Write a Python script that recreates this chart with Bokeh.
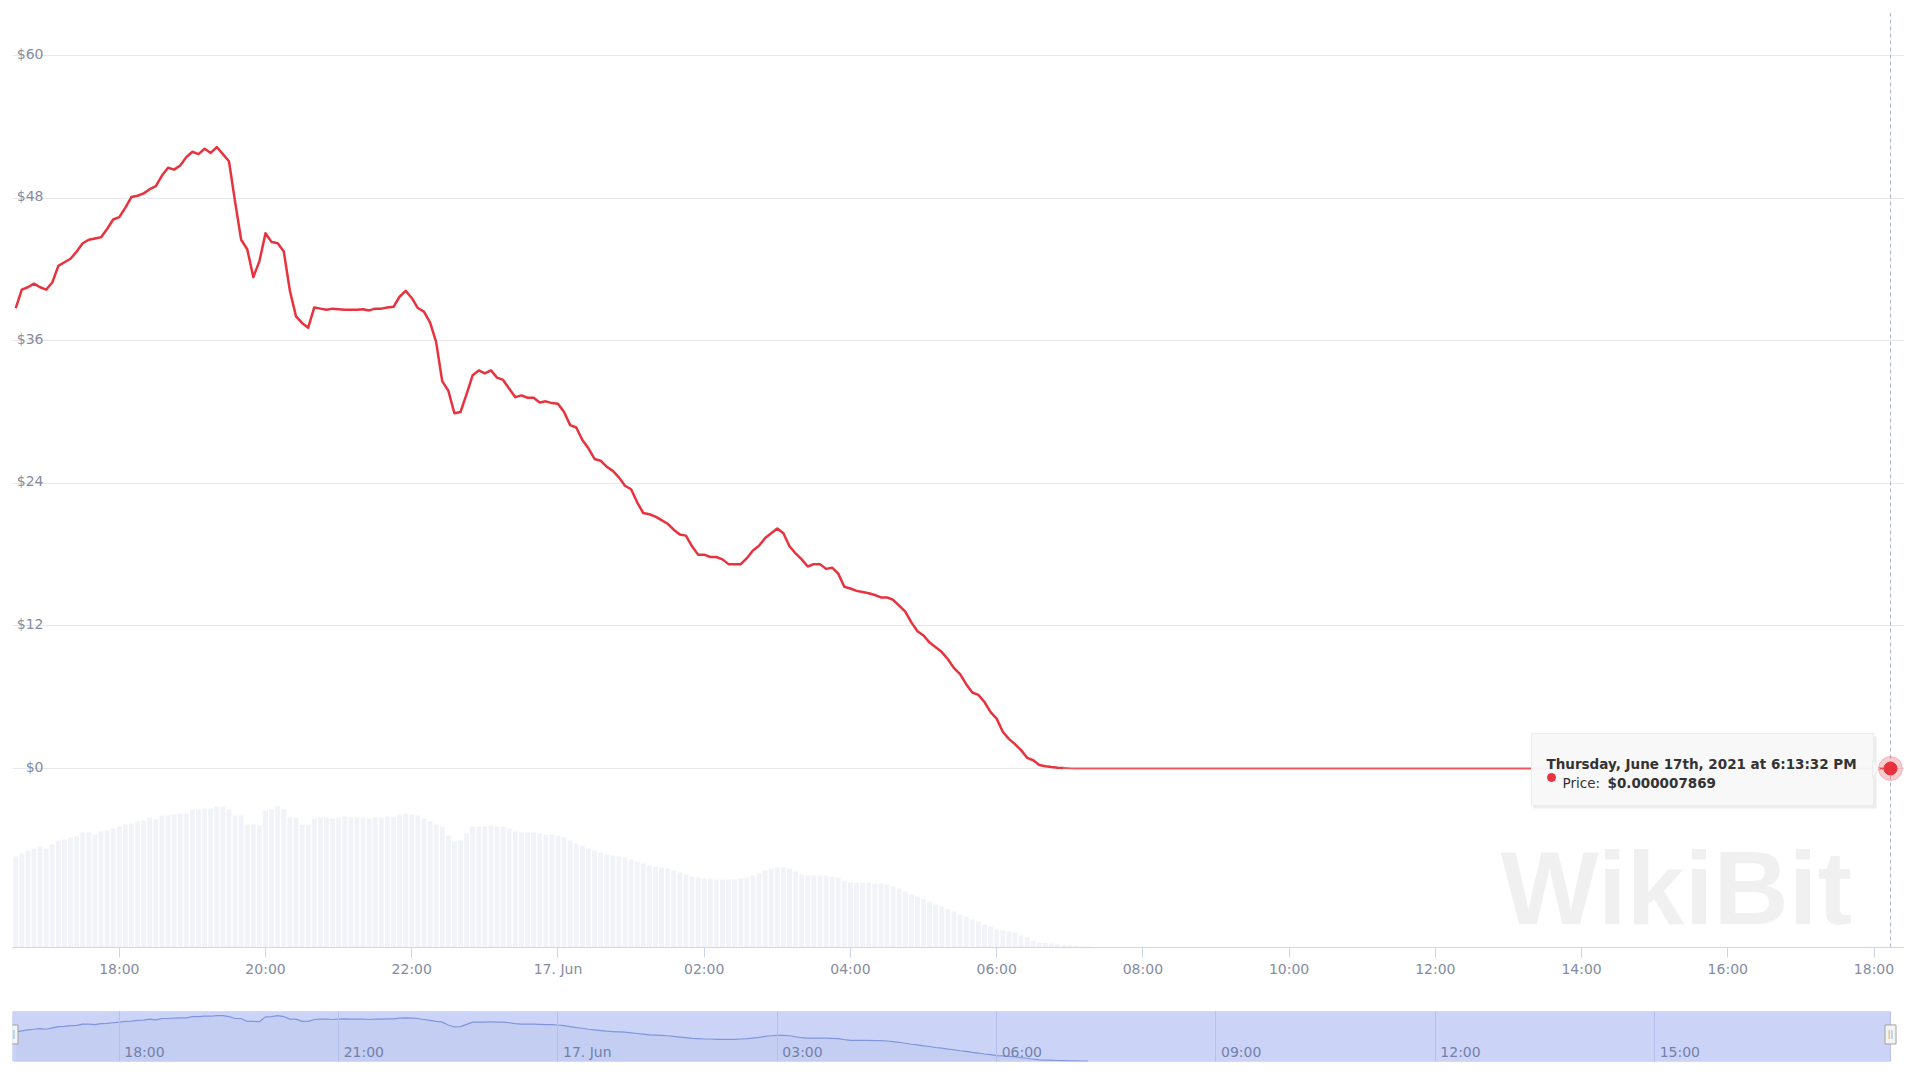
from datetime import datetime, timedelta
from bokeh.plotting import figure
from bokeh.models import (Range1d, DatetimeAxis, FixedTicker, Grid, Span, Label,
                          CustomJSTickFormatter)
from bokeh.layouts import column
from bokeh.embed import file_html
from bokeh.resources import INLINE
from bokeh.core.properties import value

# ---------------- data (5-minute samples from 16 Jun 16:35) ----------------
price = [
    38.74, 40.3, 40.5, 40.8, 40.5, 40.3, 40.9, 42.3, 42.6, 42.9,
    43.5, 44.2, 44.5, 44.6, 44.7, 45.4, 46.2, 46.4, 47.2, 48.1,
    48.2, 48.4, 48.75, 49.0, 49.9, 50.55, 50.4, 50.75, 51.45, 51.9,
    51.7, 52.15, 51.8, 52.3, 51.7, 51.1, 47.7, 44.5, 43.7, 41.35,
    42.7, 45.05, 44.3, 44.2, 43.5, 40.2, 38.05, 37.5, 37.1, 38.8,
    38.7, 38.6, 38.7, 38.65, 38.6, 38.6, 38.6, 38.65, 38.55, 38.7,
    38.7, 38.8, 38.85, 39.7, 40.2, 39.6, 38.75, 38.45, 37.55, 35.9,
    32.6, 31.8, 29.9, 30.0, 31.5, 33.1, 33.5, 33.25, 33.5, 32.9,
    32.7, 31.95, 31.25, 31.4, 31.2, 31.2, 30.8, 30.9, 30.75, 30.7,
    30.0, 28.9, 28.7, 27.65, 26.95, 26.05,
    25.9, 25.4, 25.05, 24.5, 23.8, 23.5, 22.4, 21.5, 21.4, 21.2,
    20.9, 20.6, 20.1, 19.7, 19.6, 18.7, 18.0, 18.0, 17.8, 17.8,
    17.6, 17.2, 17.2, 17.2, 17.7, 18.35, 18.75, 19.4, 19.8, 20.2,
    19.8, 18.7, 18.1, 17.6, 17.0, 17.2, 17.2, 16.8, 16.9, 16.4,
    15.3, 15.15, 14.95, 14.85, 14.75, 14.6, 14.4, 14.4, 14.2, 13.7,
    13.2, 12.3, 11.55, 11.2, 10.6, 10.2, 9.8, 9.2, 8.45, 7.95,
    7.1, 6.4, 6.2, 5.6, 4.75, 4.2, 3.1, 2.5, 2.05, 1.55,
    0.9, 0.7, 0.3, 0.2, 0.12, 0.07, 0.04,
]
tail_times = [datetime(2021, 6, 17, 7, 0), datetime(2021, 6, 17, 7, 5),
              datetime(2021, 6, 17, 7, 15), datetime(2021, 6, 17, 8, 0),
              datetime(2021, 6, 17, 12, 0), datetime(2021, 6, 17, 18, 13, 32)]
tail_price = [0.02, 0.01, 0.004, 0.0001, 0.00001, 0.000007869]

volume = [
    91, 94, 97, 99, 101, 99, 103, 107, 108, 110,
    111, 115, 115, 113, 116, 117, 119, 121, 123, 124,
    126, 127, 130, 128, 132, 132, 133, 134, 134, 138,
    138, 139, 139, 141, 141, 138, 132, 132, 123, 123,
    122, 137, 138, 141, 138, 130, 130, 123, 123, 129,
    130, 130, 129, 130, 131, 130, 130, 130, 129, 130,
    130, 131, 131, 133, 134, 133, 132, 129, 126, 123,
    121, 112, 106, 107, 114, 121, 121, 121, 122,
    121, 121, 119, 116, 115, 115, 115, 114, 113, 113,
    112, 110, 107, 104, 102, 99, 97, 95, 93, 92,
    91, 90, 88, 86, 84, 82, 81, 80, 79, 77,
    75, 73, 71, 70, 69, 69, 68, 68, 68, 68,
    69, 70, 72, 74, 77, 79, 80, 80, 79, 76,
    73, 72, 72, 72, 72, 71, 70, 67, 65, 65,
    65, 65, 64, 64, 63, 61, 59, 56, 53, 51,
    48, 46, 43, 41, 38, 36, 33, 31, 28, 26,
    23, 21, 18, 17, 16, 15, 12, 10, 7, 5,
    4.5, 4, 3, 2.5, 2, 1.8, 1.2, 1,
]

price_ticks = [0, 12, 24, 36, 48, 60]
price_labels = ["$0", "$12", "$24", "$36", "$48", "$60"]

x_tick_times = [datetime(2021, 6, 16, 18) + timedelta(hours=2 * k) for k in range(13)]
x_tick_labels = ["18:00", "20:00", "22:00", "17. Jun", "02:00", "04:00", "06:00",
                 "08:00", "10:00", "12:00", "14:00", "16:00", "18:00"]
nav_tick_times = [datetime(2021, 6, 16, 18) + timedelta(hours=3 * k) for k in range(8)]
nav_tick_labels = ["18:00", "21:00", "17. Jun", "03:00", "06:00", "09:00", "12:00", "15:00"]

tooltip_title = "Thursday, June 17th, 2021 at 6:13:32 PM"
tooltip_label = "Price:"
tooltip_value = "$0.000007869"
watermark = "WikiBit"

# ---------------- helpers ----------------
START = datetime(2021, 6, 16, 16, 35)
STEP = timedelta(minutes=5)
times = [START + STEP * i for i in range(len(price))]
vol_times = [START + STEP * i for i in range(len(volume))]
X_LAST = tail_times[-1]

EPOCH = datetime(1970, 1, 1)
def ms(d):
    return (d - EPOCH).total_seconds() * 1000.0

FONT = "DejaVu Sans"
W = 1904
# horizontal scale: 16 Jun 18:00 sits at px 118.8, last point at px 1890
T_REF = datetime(2021, 6, 16, 18)
PX_REF = 118.8
PPH = (1890.0 - PX_REF) / ((X_LAST - T_REF).total_seconds() / 3600.0)
def tx(px):
    return T_REF + timedelta(hours=(px - PX_REF) / PPH)

FL, FR, FT, FB = 12.0, float(W), 12.0, 947.0
Y0, Y1 = -15.06, 63.62
def py(px):
    return Y0 + (Y1 - Y0) * (FB - px) / (FB - FT)

MAIN_H = 1004
TOT_H = 1064

# ---------------- main chart ----------------
p = figure(width=W, height=MAIN_H, x_range=Range1d(tx(FL), tx(FR)),
           y_range=Range1d(Y0, Y1), x_axis_type=None, y_axis_type=None,
           output_backend="svg", toolbar_location=None,
           min_border_left=int(FL), min_border_right=0, min_border_top=int(FT),
           min_border_bottom=MAIN_H - int(FB))
p.outline_line_color = None
p.background_fill_color = "white"
p.border_fill_color = "white"
p.extra_y_ranges = {"vol": Range1d(0, FB - FT)}

p.add_layout(Grid(dimension=1, ticker=FixedTicker(ticks=price_ticks),
                  grid_line_color="#e8e8ec", grid_line_width=1))

tick_ms = [ms(t) for t in x_tick_times]
xaxis = DatetimeAxis(ticker=FixedTicker(ticks=tick_ms),
                     formatter=CustomJSTickFormatter(
                         args=dict(tvals=tick_ms, tlabels=x_tick_labels),
                         code="const i = tvals.indexOf(tick); return i >= 0 ? tlabels[i] : '';"))
xaxis.axis_line_color = "#ccd6eb"
xaxis.major_tick_line_color = "#ccd6eb"
xaxis.minor_tick_line_color = None
xaxis.major_tick_in = 0
xaxis.major_tick_out = 10
xaxis.major_label_standoff = 3
xaxis.major_label_text_font = FONT
xaxis.major_label_text_font_size = "14px"
xaxis.major_label_text_color = "#858ca2"
p.add_layout(xaxis, "below")

# watermark (kept fully inside the plot frame)
p.add_layout(Label(x=tx(1500), y=py(945), text=watermark, text_font="Liberation Sans",
                   text_font_style="bold", text_font_size="104px", text_color="#000000",
                   text_alpha=0.06, text_baseline="bottom"))

# volume bars
p.vbar(x=vol_times, top=volume, bottom=0, width=4 * 60 * 1000, y_range_name="vol",
       fill_color="#f2f3f8", line_color=None)

# price labels inside plot
p.text(x=[tx(43)] * len(price_ticks), y=price_ticks, text=price_labels,
       text_align="right", text_baseline="alphabetic", y_offset=-2,
       text_font=value(FONT), text_font_size="14px", text_color="#858ca2")

# crosshair (behind the series)
cross = Span(location=ms(X_LAST), dimension="height", line_color="#aeb5c9",
             line_dash="4 3", line_width=1)
cross.level = "underlay"
p.add_layout(cross)

# price line (active part and flat tail)
p.line(times, price, line_color="#e8323e", line_width=2.5, line_join="round")
p.line([times[-1]] + tail_times, [price[-1]] + tail_price, line_color="#e8323e",
       line_width=2, line_alpha=0.8)

# tooltip
SH = -16
p.quad(left=[tx(1549 + SH)], right=[tx(1892 + SH)], top=[py(736)], bottom=[py(808)],
       fill_color="#000000", fill_alpha=0.07, line_color=None)
p.quad(left=[tx(1547 + SH)], right=[tx(1889 + SH)], top=[py(733)], bottom=[py(805)],
       fill_color="#f8f8f8", fill_alpha=0.97, line_color="#ececec")
p.patch(x=[tx(1888 + SH), tx(1895 + SH), tx(1888 + SH)], y=[py(760), py(768), py(777)],
        fill_color="#f8f8f8", line_color="#ececec")
p.text(x=[tx(1562 + SH)], y=[py(763)], text=[tooltip_title], text_font=value(FONT),
       text_font_style="bold", text_font_size="13.5px", text_color="#333333",
       text_baseline="alphabetic")
p.scatter(x=[tx(1567 + SH)], y=[py(777)], size=8, color="#e8323e")
p.text(x=[tx(1578 + SH)], y=[py(782)], text=[tooltip_label], text_font=value(FONT),
       text_font_size="13.5px", text_color="#333333", text_baseline="alphabetic")
p.text(x=[tx(1623 + SH)], y=[py(782)], text=[tooltip_value], text_font=value(FONT),
       text_font_style="bold", text_font_size="13.5px", text_color="#333333",
       text_baseline="alphabetic")

# hover marker
p.scatter(x=[X_LAST], y=[tail_price[-1]], size=24, color="#e8323e", alpha=0.25)
p.scatter(x=[X_LAST], y=[tail_price[-1]], size=13, color="#e8323e")

# ---------------- navigator ----------------
NAV_T, NAV_B = 1011, 1061
NAV_H = 153.5
nav = figure(width=W, height=TOT_H - MAIN_H, x_range=Range1d(tx(FL), tx(FR)),
             y_range=Range1d(0, NAV_H), x_axis_type=None, y_axis_type=None,
             output_backend="svg", toolbar_location=None,
             min_border_left=int(FL), min_border_right=0, min_border_top=NAV_T - MAIN_H,
             min_border_bottom=TOT_H - NAV_B)
nav.outline_line_color = None
nav.background_fill_color = "white"
nav.border_fill_color = "white"

nav.quad(left=[tx(FL)], right=[X_LAST], bottom=[0], top=[NAV_H],
         fill_color="#cbd4f6", line_color="#b7c1ec")
g = Grid(dimension=0, ticker=FixedTicker(ticks=[ms(t) for t in nav_tick_times]),
         grid_line_color="#b5c0ea", grid_line_width=1)
g.level = "guide"
nav.add_layout(g)
nav.varea(x=vol_times, y1=0, y2=volume, fill_color="#335cad", fill_alpha=0.05)
nav.line(vol_times, volume, line_color="#8295dc", line_width=1.2)
nav.text(x=nav_tick_times, y=[30] * len(nav_tick_times), text=nav_tick_labels,
         x_offset=5, text_baseline="alphabetic", text_font=value(FONT),
         text_font_size="14px", text_color="#7480ab")
nav.rect(x=[tx(FL), X_LAST], y=[82.9, 82.9], width=11, height=19,
         width_units="screen", height_units="screen",
         fill_color="#f4f4f4", line_color="#a0a0a0")
nav.text(x=[tx(FL), X_LAST], y=[82.9, 82.9], text=["||", "||"], text_align="center",
         text_baseline="middle", text_font=value(FONT), text_font_size="8px",
         text_color="#9a9a9a")

layout = column(p, nav, spacing=0)
open("out.html", "w").write(file_html(layout, INLINE))
